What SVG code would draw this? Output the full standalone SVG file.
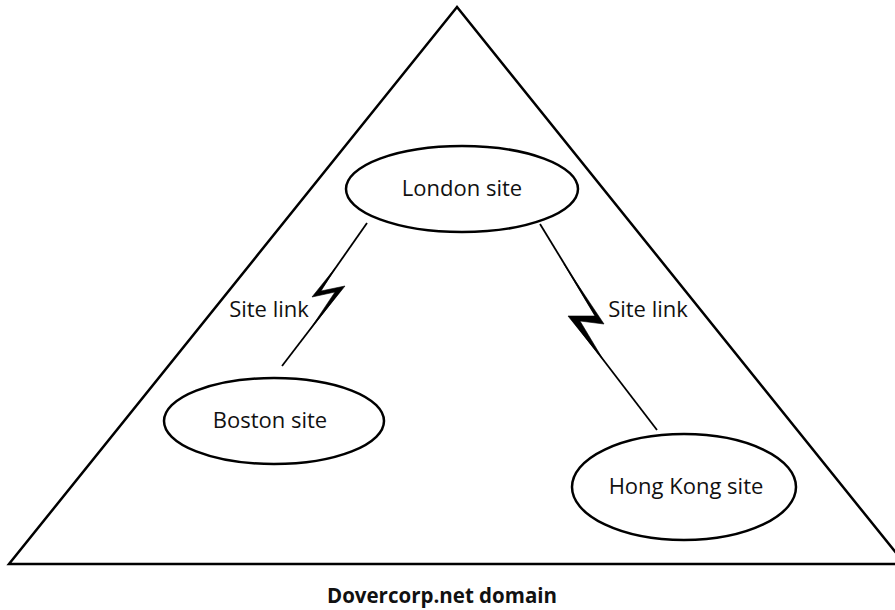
<svg xmlns="http://www.w3.org/2000/svg" width="895" height="610" viewBox="0 0 895 610">
  <style>
    .frame { fill: none; stroke: #000; stroke-width: 2.5; }
    .site { fill: #fff; stroke: #000; stroke-width: 2.5; }
    .wire { fill: none; stroke: #000; stroke-width: 1.8; }
    .bolt { fill: #000; stroke: #000; stroke-width: 0.6; stroke-linejoin: miter; }
    .lbl { font-family: "Open Sans", "Noto Sans", sans-serif; font-size: 22px; fill: #111; text-anchor: middle; }
    .title { font-family: "Open Sans", "Noto Sans", sans-serif; font-size: 20.5px; font-weight: bold; fill: #111; text-anchor: middle; }
  </style>
  <rect width="895" height="610" fill="#fff"/>

  <!-- domain boundary -->
  <g id="domain">
    <polygon class="frame" points="457,7 9,564 905,564"/>
    <text class="title" x="442" y="603">Dovercorp.net domain</text>
  </g>

  <!-- site links: thin wire with a tapered lightning zig -->
  <g id="connectors">
    <g id="link-boston">
      <line class="wire" x1="367" y1="223" x2="318" y2="293"/>
      <line class="wire" x1="341" y1="289" x2="282" y2="366"/>
      <polygon class="bolt" points="336,267 312,297 335,292 309,331 345,286 321,291"/>
      <text class="lbl" x="269" y="317">Site link</text>
    </g>
    <g id="link-hongkong">
      <line class="wire" x1="540" y1="224" x2="598" y2="319"/>
      <line class="wire" x1="572" y1="319" x2="657" y2="430"/>
      <polygon class="bolt" points="564,264 595,316 568,316 604,361 580,321 604,324"/>
      <text class="lbl" x="648" y="317">Site link</text>
    </g>
  </g>

  <g id="london">
    <ellipse class="site" cx="462" cy="189" rx="116" ry="43"/>
    <text class="lbl" x="462" y="196">London site</text>
  </g>
  <g id="boston">
    <ellipse class="site" cx="274" cy="421" rx="110" ry="43"/>
    <text class="lbl" x="270" y="428">Boston site</text>
  </g>
  <g id="hongkong">
    <ellipse class="site" cx="684" cy="487" rx="112" ry="53"/>
    <text class="lbl" x="686" y="494">Hong Kong site</text>
  </g>
</svg>
